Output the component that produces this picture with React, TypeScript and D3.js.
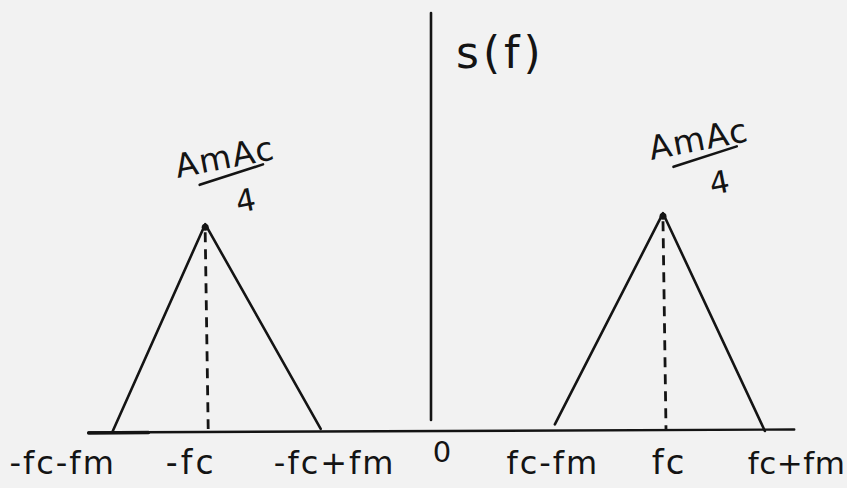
import React from "react";
import * as d3 from "d3";

// Frequency axis labels and where each sits on the frequency scale
const freqLabels = ["-fc-fm", "-fc", "-fc+fm", "0", "fc-fm", "fc", "fc+fm"];
const freqValues = [-3.04, -2.16, -1.06, 0, 1.17, 2.2, 3.17];

// Lower sideband triangle (negative frequencies): base-left, peak, base-right
const lowerBandF = [-3.04, -2.16, -1.06];
const lowerBandA = [0, 0.94, 0.01];

// Upper sideband triangle (positive frequencies)
const upperBandF = [1.17, 2.2, 3.17];
const upperBandA = [0.03, 0.99, 0];

// Peak amplitude annotation: numerator over denominator
const peakNumerator = "AmAc";
const peakDenominator = "4";
const spectrumLabel = "s(f)";

const W = 847;
const H = 488;

const x = d3.scaleLinear().domain([-4, 4]).range([12, 852]);
const y = d3.scaleLinear().domain([0, 1]).range([431, 211]);

// per-label nudges so the hand-written labels sit beside their ticks
const labelLayout = [
  { anchor: "end", dx: 3, ls: 2, size: 32 },
  { anchor: "middle", dx: -14, ls: 3, size: 33 },
  { anchor: "middle", dx: 14, ls: 2, size: 32 },
  { anchor: "middle", dx: 10, ls: 0, size: 29 },
  { anchor: "middle", dx: -2, ls: 2, size: 32 },
  { anchor: "middle", dx: 6, ls: 2, size: 34 },
  { anchor: "start", dx: -17, ls: 0.5, size: 31 },
];

const ink = "#141414";
const font = "'DejaVu Sans', sans-serif";

function Band({ f, a, noteDx, noteDy }: { f: number[]; a: number[]; noteDx: number; noteDy: number }) {
  const line = d3
    .line<number>()
    .x((_, i) => x(f[i]))
    .y((_, i) => y(a[i]));
  const peakF = f[1];
  const peakA = a[1];
  const px = x(peakF);
  const py = y(peakA);
  return (
    <g>
      <path
        d={line(f) || ""}
        fill="none"
        stroke={ink}
        strokeWidth={2.6}
        strokeLinejoin="round"
        strokeLinecap="round"
      />
      <circle cx={px} cy={py + 3} r={3.5} fill={ink} />
      <line
        x1={px}
        x2={px + 3}
        y1={py + 8}
        y2={y(0) - 2}
        stroke={ink}
        strokeWidth={2.8}
        strokeDasharray="10 7"
      />
      <g transform={`translate(${px + noteDx},${py + noteDy}) rotate(-11)`}>
        <text
          x={0}
          y={-6}
          textAnchor="middle"
          fontFamily={font}
          fontSize={33}
          letterSpacing={1.5}
          fill={ink}
        >
          {peakNumerator}
        </text>
        <line x1={-30} x2={36} y1={5} y2={-3} stroke={ink} strokeWidth={2.6} strokeLinecap="round" />
        <text
          x={12}
          y={40}
          textAnchor="middle"
          fontFamily={font}
          fontSize={31}
          fill={ink}
        >
          {peakDenominator}
        </text>
      </g>
    </g>
  );
}

export default function App() {
  const axisLeft = -3.27;
  const axisRight = 3.45;
  return (
    <svg
      width={W}
      height={H}
      viewBox={`0 0 ${W} ${H}`}
      style={{ position: "absolute", left: 0, top: 0, display: "block" }}
    >
      <rect x={0} y={0} width={W} height={H} fill="#f2f2f2" />

      {/* frequency axis */}
      <line
        x1={x(axisLeft)}
        y1={y(0) + 1.5}
        x2={x(axisRight)}
        y2={y(0) - 1.5}
        stroke={ink}
        strokeWidth={2.4}
        strokeLinecap="round"
      />
      <line
        x1={x(axisLeft)}
        y1={y(0) + 2}
        x2={x(-2.7)}
        y2={y(0) + 1.5}
        stroke={ink}
        strokeWidth={3.5}
        strokeLinecap="round"
      />

      {/* amplitude axis */}
      <line
        x1={x(0) - 1}
        y1={y(1.9)}
        x2={x(0) - 1}
        y2={y(0.05)}
        stroke={ink}
        strokeWidth={2.6}
        strokeLinecap="round"
      />

      <text
        x={456}
        y={68}
        fontFamily={font}
        fontSize={44}
        letterSpacing={4}
        fill={ink}
      >
        {spectrumLabel}
      </text>

      <Band f={lowerBandF} a={lowerBandA} noteDx={23} noteDy={-50} />
      <Band f={upperBandF} a={upperBandA} noteDx={39} noteDy={-57} />

      {freqLabels.map((lab, i) => {
        const lay = labelLayout[i];
        const isZero = freqValues[i] === 0;
        return (
          <text
            key={lab}
            x={x(freqValues[i]) + lay.dx}
            y={isZero ? 462 : 474}
            textAnchor={lay.anchor}
            fontFamily={font}
            fontSize={lay.size}
            letterSpacing={lay.ls}
            fill={ink}
          >
            {lab}
          </text>
        );
      })}
    </svg>
  );
}
